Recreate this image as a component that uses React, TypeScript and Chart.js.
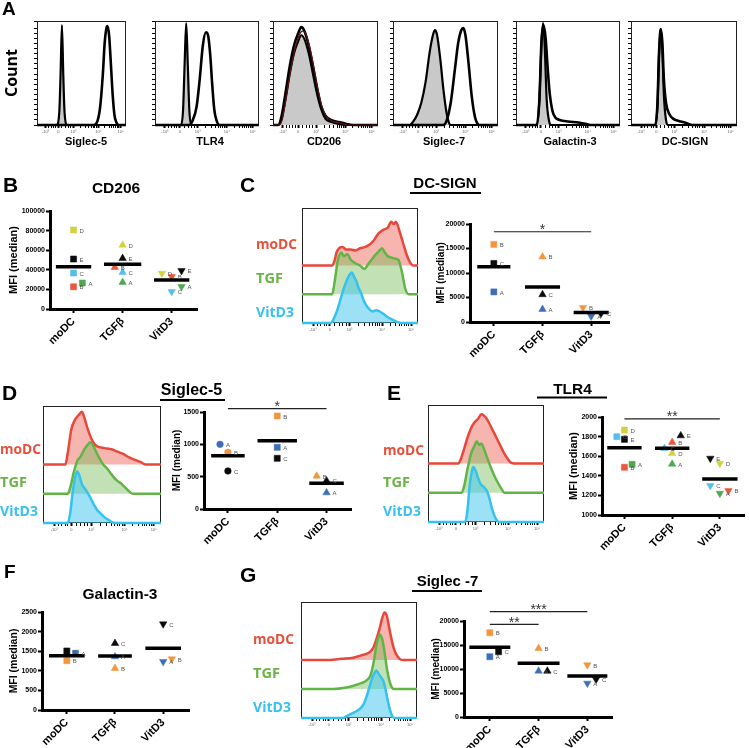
import React, { useEffect, useRef } from 'react';
import { Chart, registerables } from 'chart.js';
Chart.register(...registerables);

const SANS = '"Liberation Sans", Arial, sans-serif';
const OPEN = '"Open Sans", "Liberation Sans", sans-serif';

type Pt = [number, number];

// ---------- Panel A histograms (x: display position 0-100, y: % of max count)
const a1Iso: Pt[] = [[0,0],[22,0],[25,12],[26.5,50],[28,98],[29.5,50],[31,12],[34,0],[100,0]];
const a1Stain: Pt[] = [[0,0],[64,0],[68,4],[71,18],[74,50],[76,80],[78,95],[79,97],[81,88],[83,60],[85,30],[87,10],[89,3],[92,0],[100,0]];
const a2Iso: Pt[] = [[0,0],[25,0],[27,15],[28.5,60],[30,100],[31.5,60],[33,15],[35,0],[100,0]];
const a2Stain: Pt[] = [[0,0],[33,0],[36,4],[40,18],[43,45],[46,78],[49,91],[51,88],[53,70],[55,40],[57,15],[59,5],[62,0],[100,0]];
const a3Iso: Pt[] = [[0,0],[5,0],[8,5],[12,25],[16,50],[20,70],[24,82],[27,88],[30,84],[34,70],[38,50],[42,30],[46,15],[50,6],[55,3],[62,1],[70,0],[100,0]];
const a3Stain: Pt[] = [[0,0],[5,0],[8,8],[12,32],[16,58],[20,78],[24,90],[27,96],[30,92],[34,78],[38,58],[42,36],[46,18],[50,9],[55,5],[62,3],[70,1],[76,0],[100,0]];
const a3Stain2: Pt[] = [[0,0],[6,0],[9,6],[13,30],[17,55],[21,75],[25,88],[28,92],[31,90],[35,76],[39,56],[43,34],[47,17],[51,8],[56,4],[64,2],[72,0],[100,0]];
const a4Iso: Pt[] = [[0,0],[16,0],[19,3],[23,10],[27,22],[31,42],[35,72],[38,88],[40,93],[42,88],[45,65],[48,35],[51,12],[53,3],[55,0],[100,0]];
const a4Stain: Pt[] = [[0,0],[48,0],[51,4],[55,22],[59,55],[62,80],[65,93],[67,95],[69,88],[72,60],[75,28],[78,8],[80,2],[82,0],[100,0]];
const a5Iso: Pt[] = [[0,0],[20,0],[22.5,25],[24.5,80],[26,100],[27.5,80],[29.5,25],[32,3],[34,0],[100,0]];
const a5Stain: Pt[] = [[0,0],[20,0],[22.5,25],[24.5,82],[26.5,98],[28.5,85],[30.5,55],[32.5,30],[35,14],[38,7],[42,5],[50,3.5],[60,2.5],[68,1],[72,0],[100,0]];
const a6Iso: Pt[] = [[0,0],[23,0],[25,20],[26.5,70],[28,94],[29.5,75],[31,30],[33,5],[35,0],[100,0]];
const a6Stain: Pt[] = [[0,0],[23,0],[25,22],[26.5,72],[28,94],[29.5,82],[31,45],[33,22],[36,11],[40,6],[45,4],[52,2],[58,0],[100,0]];
const aMarkers = ['Siglec-5', 'TLR4', 'CD206', 'Siglec-7', 'Galactin-3', 'DC-SIGN'];

// ---------- Offset histograms (height above own baseline, % of box)
const cRed: Pt[] = [[0,0],[26,0],[28,4],[30,12],[32,15],[35,16],[38,14],[42,14],[46,13],[50,15],[54,16],[58,18],[62,22],[66,28],[70,31],[74,33],[77,38],[79,36],[81,38],[84,30],[87,20],[90,10],[93,3],[96,0],[100,0]];
const cGreen: Pt[] = [[0,0],[26,0],[28,10],[31,30],[34,36],[36,33],[39,35],[42,30],[46,27],[50,25],[54,22],[57,26],[60,30],[63,34],[66,37],[69,40],[71,37],[74,33],[77,32],[80,31],[83,30],[86,20],[89,5],[92,0],[100,0]];
const cCyan: Pt[] = [[0,0],[25,0],[27,3],[30,10],[33,20],[36,30],[39,38],[41,42],[43,44],[45,40],[47,36],[49,30],[51,26],[53,20],[55,16],[58,12],[61,10],[64,11],[67,10],[70,8],[74,5],[78,3],[82,1],[85,0],[100,0]];

const dRed: Pt[] = [[0,0],[19,0],[21,10],[24,30],[27,38],[30,42],[33,45],[35,40],[38,30],[41,22],[44,17],[47,15],[52,14],[58,13],[63,11],[68,9],[73,6],[78,4],[83,2],[87,0],[100,0]];
const dGreen: Pt[] = [[0,0],[21,0],[23,5],[26,18],[29,28],[32,32],[35,38],[38,42],[40,44],[42,42],[45,36],[48,30],[51,25],[54,22],[57,18],[60,14],[63,11],[66,9],[69,6],[72,3],[76,0],[100,0]];
const dCyan: Pt[] = [[0,0],[21,0],[23,8],[25,25],[27,38],[29,44],[31,40],[33,33],[35,30],[37,27],[40,22],[43,16],[46,11],[49,8],[52,5],[55,3],[58,1],[61,0],[100,0]];

const eRed: Pt[] = [[0,0],[26,0],[28,3],[31,12],[34,22],[37,30],[40,35],[43,38],[46,42],[48,41],[50,39],[53,34],[56,28],[59,22],[62,16],[65,10],[68,5],[71,1],[74,0],[100,0]];
const eGreen: Pt[] = [[0,0],[29,0],[31,5],[34,20],[37,33],[40,40],[42,44],[44,41],[46,42],[48,38],[51,30],[54,22],[57,15],[60,9],[63,4],[66,0],[100,0]];
const eCyan: Pt[] = [[0,0],[32,0],[34,10],[36,32],[38,44],[39,47],[41,44],[43,38],[45,33],[48,30],[51,26],[53,20],[55,12],[57,6],[59,2],[61,0],[100,0]];

const gRed: Pt[] = [[0,0],[25,0],[35,1],[45,2],[52,4],[58,6],[62,10],[65,18],[68,28],[70,36],[72,41],[74,38],[76,28],[78,18],[80,10],[82,5],[85,1],[88,0],[100,0]];
const gGreen: Pt[] = [[0,0],[28,0],[38,1],[46,3],[52,5],[56,7],[60,12],[63,25],[65,38],[67,45],[68,47],[70,43],[72,32],[74,18],[76,8],[78,2],[80,0],[100,0]];
const gCyan: Pt[] = [[0,0],[36,0],[40,2],[44,4],[48,6],[51,8],[54,12],[57,20],[60,30],[62,36],[64,40],[65,41],[67,38],[69,35],[71,32],[73,24],[75,14],[77,6],[79,1],[81,0],[100,0]];

const histTickPos = [9.5, 24, 41, 69, 94];
const histTickLabels = ['-10³', '0', '10³', '10⁴', '10⁵'];
const histMinor = [13, 16, 19, 21, 28, 32, 35, 38, 49, 54, 58, 61, 63, 65, 67, 76, 81, 84, 86, 88, 90, 92];

// ---------- Scatter data
const cats = ['moDC', 'TGFβ', 'VitD3'];
const letters5 = ['A', 'B', 'C', 'D', 'E'];
const letters3 = ['A', 'B', 'C'];
const GREEN = '#4ea84e', RED = '#e9573d', CYAN = '#56bee8', YELLOW = '#d2d23c', BLACK = '#0a0a0a';
const BLUE = '#3e6fb6', ORANGE = '#f2953f';
const colors5 = [GREEN, RED, CYAN, YELLOW, BLACK];
const colors3 = [BLUE, ORANGE, BLACK];

// B CD206 (A..E)
const bMoDC = [26500, 22700, 36700, 80600, 51000];
const bTGF = [27200, 42500, 37400, 65300, 51700];
const bVit = [22800, 33000, 17700, 36400, 39100];
const bMoDCdx = [0.18, 0, 0, 0, 0];
const bTGFdx = [0, -0.16, 0, 0, 0];
const bVitdx = [0.2, 0, 0, -0.2, 0.2];
const bMeans = [43200, 45600, 29600];

// C DC-SIGN (A..C)
const cMoDC = [6140, 15840, 11950];
const cTGF = [2600, 13300, 5610];
const cVit = [1170, 2950, 1720];
const cVitdx = [0, -0.17, 0.2];
const cMeans = [11260, 7160, 1920];

// D Siglec-5
const dMoDC = [1000, 877, 588];
const dTGF = [954, 1438, 784];
const dVit = [252, 510, 438];
const dMoDCdx = [-0.16, 0, 0];
const dVitdx = [0, -0.2, 0];
const dMeans = [824, 1056, 397];

// E TLR4 (A..E)
const eMoDC = [1517, 1487, 1799, 1867, 1772];
const eTGF = [1520, 1742, 1680, 1629, 1809];
const eVit = [1221, 1248, 1299, 1527, 1578];
const eMoDCdx = [0.16, 0, -0.16, 0, 0];
const eTGFdx = [0, 0, -0.16, 0, 0.18];
const eVitdx = [0, 0.18, -0.2, 0, -0.2];
const eMeans = [1687, 1680, 1367];

// F Galactin-3
const fMoDC = [1446, 1258, 1505];
const fTGF = [1360, 1063, 1701];
const fVit = [1233, 1301, 2194];
const fMoDCdx = [0.18, 0, 0];
const fVitdx = [0, 0.18, 0];
const fMeans = [1386, 1378, 1573];

// G Siglec-7
const gMoDC = [12560, 17560, 13600];
const gTGF = [9580, 14310, 9580];
const gVit = [7020, 10830, 7850];
const gdx = [0, 0, 0.18];
const gMeans = [14520, 11190, 8540];

const zero3 = [0, 0, 0];

// ---------- generic canvas
function ChartCanvas({ x, y, w, h, make }: { x: number; y: number; w: number; h: number; make: () => any }) {
  const ref = useRef<HTMLCanvasElement | null>(null);
  useEffect(() => {
    if (!ref.current) return;
    const c = new Chart(ref.current, make());
    return () => c.destroy();
  }, []);
  return <canvas ref={ref} width={w} height={h} style={{ position: 'absolute', left: x, top: y, width: w, height: h }} />;
}

const boxPlugin = {
  id: 'box',
  beforeDatasetsDraw(chart: any) {
    const { ctx, chartArea: a } = chart;
    ctx.save();
    ctx.strokeStyle = '#222';
    ctx.lineWidth = 1;
    ctx.strokeRect(a.left + 0.5, a.top + 0.5, a.right - a.left - 1, a.bottom - a.top - 1);
    ctx.restore();
  },
};

interface Curve { pts: Pt[]; line: string; fill?: string; base: number; width: number; order: number }

function histConfig(curves: Curve[], yMax: number, yTicks: boolean) {
  return {
    type: 'line',
    data: {
      datasets: curves.map((c) => ({
        data: c.pts.map(([x, y]) => ({ x, y: y + c.base })),
        borderColor: c.line,
        borderWidth: c.width,
        backgroundColor: c.fill || 'rgba(0,0,0,0)',
        fill: c.fill ? { value: c.base } : false,
        pointRadius: 0,
        cubicInterpolationMode: 'monotone',
        clip: 8,
        order: c.order,
      })),
    },
    options: {
      animation: false,
      responsive: false,
      events: [],
      layout: { padding: { left: 2, right: 4, top: 6, bottom: 0 } },
      plugins: { legend: { display: false }, tooltip: { enabled: false } },
      scales: {
        x: {
          type: 'linear', min: 0, max: 100,
          afterFit: (s: any) => { s.height = 12; },
          afterBuildTicks: (s: any) => { s.ticks = [...histTickPos, ...histMinor].sort((a, b) => a - b).map((v) => ({ value: v })); },
          ticks: {
            autoSkip: false, maxRotation: 0, minRotation: 0, padding: 1, color: '#666',
            font: { size: 4, family: SANS },
            callback: (v: number) => { const i = histTickPos.indexOf(v); return i >= 0 ? histTickLabels[i] : ''; },
          },
          grid: {
            drawOnChartArea: false, tickLength: 3, color: '#000',
            tickWidth: (ctx: any) => (ctx.tick && histTickPos.indexOf(ctx.tick.value) >= 0 ? 2 : 1),
          },
          border: { display: false },
        },
        y: {
          min: 0, max: yMax,
          afterFit: (s: any) => { s.width = 6; },
          ticks: { display: false, stepSize: 5 },
          grid: { display: yTicks, drawOnChartArea: false, tickLength: 3, color: '#000' },
          border: { display: false },
        },
      },
    },
    plugins: [boxPlugin],
  };
}

function Hist({ box, curves, yMax = 100, yTicks = false }: { box: [number, number, number, number]; curves: Curve[]; yMax?: number; yTicks?: boolean }) {
  const [l, t, r, b] = box;
  return <ChartCanvas x={l - 8} y={t - 6} w={r - l + 12} h={b - t + 18} make={() => histConfig(curves, yMax, yTicks)} />;
}

const RL = '#e8473b', RF = 'rgba(238,90,80,0.45)';
const GL = '#62b447', GF = 'rgba(110,185,80,0.42)';
const CL = '#34c2ee', CF = 'rgba(60,195,240,0.5)';

function offsetCurves(red: Pt[], green: Pt[], cyan: Pt[]): Curve[] {
  return [
    { pts: red, line: RL, fill: RF, base: 50, width: 2.5, order: 3 },
    { pts: green, line: GL, fill: GF, base: 25, width: 2.5, order: 2 },
    { pts: cyan, line: CL, fill: CF, base: 0, width: 2.5, order: 1 },
  ];
}

function isoCurves(iso: Pt[], stain: Pt[]): Curve[] {
  return [
    { pts: iso, line: '#000', fill: '#c9c9c9', base: 0, width: 2.2, order: 2 },
    { pts: stain, line: '#000', base: 0, width: 2.6, order: 1 },
  ];
}

// ---------- scatter
interface Group { vals: number[]; dx: number[]; shape: string; down?: boolean }
interface Sig { from: number; to: number; y: number; text: string }
interface Spec {
  groups: Group[]; colors: string[]; letters: string[]; means: number[]; half: number[];
  min: number; max: number; step: number; xMin: number; xMax: number; sigs: Sig[];
  axisX: number; right: number; yTop: number; yBottom: number; titleCx: number; titleSize: number; padTop: number;
}

function scatterConfig(s: Spec, yW: number, padRight: number) {
  const datasets: any[] = [];
  s.groups.forEach((g, i) => {
    datasets.push({
      data: g.vals.map((v, j) => ({ x: i + 1 + g.dx[j], y: v })),
      pointStyle: g.shape,
      pointRotation: g.down ? 180 : 0,
      pointRadius: g.shape === 'circle' ? 3.3 : 4.3,
      pointBackgroundColor: s.colors,
      pointBorderColor: s.colors,
      pointBorderWidth: 0.5,
      backgroundColor: s.colors,
      borderColor: s.colors,
      showLine: false,
      clip: false,
      order: 1,
    });
  });
  s.means.forEach((m, i) => {
    datasets.push({
      data: [{ x: i + 1 - s.half[i], y: m }, { x: i + 1 + s.half[i], y: m }],
      showLine: true, borderColor: '#000', borderWidth: 3.5, pointRadius: 0, clip: false, order: 0,
    });
  });
  const annot = {
    id: 'annot',
    afterDatasetsDraw(chart: any) {
      const ctx = chart.ctx;
      ctx.save();
      ctx.font = '6px ' + SANS;
      ctx.fillStyle = '#555';
      ctx.textBaseline = 'middle';
      ctx.textAlign = 'left';
      s.groups.forEach((g, i) => {
        const meta = chart.getDatasetMeta(i);
        meta.data.forEach((el: any, j: number) => ctx.fillText(s.letters[j], el.x + 6, el.y + 1));
      });
      const xs = chart.scales.x, ys = chart.scales.y;
      s.sigs.forEach((sg) => {
        const x1 = xs.getPixelForValue(sg.from), x2 = xs.getPixelForValue(sg.to), y = ys.getPixelForValue(sg.y);
        ctx.strokeStyle = '#222';
        ctx.lineWidth = 1.2;
        ctx.beginPath();
        ctx.moveTo(x1, y);
        ctx.lineTo(x2, y);
        ctx.stroke();
        ctx.font = '14px ' + SANS;
        ctx.textAlign = 'center';
        ctx.textBaseline = 'alphabetic';
        ctx.fillStyle = '#333';
        ctx.fillText(sg.text, (x1 + x2) / 2, y + 2.5);
      });
      ctx.restore();
    },
  };
  return {
    type: 'scatter',
    data: { datasets },
    options: {
      animation: false,
      responsive: false,
      events: [],
      layout: { padding: { left: 0, right: padRight, top: s.padTop, bottom: 0 } },
      plugins: { legend: { display: false }, tooltip: { enabled: false } },
      scales: {
        x: {
          type: 'linear', min: s.xMin, max: s.xMax,
          afterFit: (sc: any) => { sc.height = 46; },
          afterBuildTicks: (sc: any) => { sc.ticks = [1, 2, 3].map((v) => ({ value: v })); },
          ticks: {
            autoSkip: false, minRotation: 45, maxRotation: 45, padding: 2, color: '#000',
            font: { size: 11, weight: 'bold', family: SANS },
            callback: (v: number) => cats[Math.round(v) - 1] || '',
          },
          grid: { drawOnChartArea: false, tickLength: 4, tickWidth: 2, color: '#000' },
          border: { width: 3, color: '#000' },
        },
        y: {
          type: 'linear', min: s.min, max: s.max,
          afterFit: (sc: any) => { sc.width = yW; },
          ticks: {
            stepSize: s.step, padding: 1, color: '#000',
            font: { size: 7, weight: 'bold', family: SANS },
            callback: (v: number) => String(v),
          },
          title: {
            display: true, text: 'MFI (median)', color: '#000', padding: 0,
            font: { size: s.titleSize, weight: 'bold', family: SANS, lineHeight: 1.2 },
          },
          grid: { drawOnChartArea: false, tickLength: 4, tickWidth: 2, color: '#000' },
          border: { width: 3, color: '#000' },
        },
      },
    },
    plugins: [annot],
  };
}

function Scatter({ s, padRight = 4 }: { s: Spec; padRight?: number }) {
  const left = Math.round(s.titleCx - 0.6 * s.titleSize);
  const yW = s.axisX - left;
  const w = s.right - left + padRight;
  const top = s.yTop - s.padTop;
  const h = s.padTop + (s.yBottom - s.yTop) + 46;
  return <ChartCanvas x={left} y={top} w={w} h={h} make={() => scatterConfig(s, yW, padRight)} />;
}

const specB: Spec = {
  groups: [
    { vals: bMoDC, dx: bMoDCdx, shape: 'rect' },
    { vals: bTGF, dx: bTGFdx, shape: 'triangle' },
    { vals: bVit, dx: bVitdx, shape: 'triangle', down: true },
  ],
  colors: colors5, letters: letters5, means: bMeans, half: [0.36, 0.38, 0.36],
  min: 0, max: 100000, step: 20000, xMin: 0.52, xMax: 3.52, sigs: [],
  axisX: 50, right: 198, yTop: 211, yBottom: 309, titleCx: 14, titleSize: 11, padTop: 8,
};
const specC: Spec = {
  groups: [
    { vals: cMoDC, dx: zero3, shape: 'rect' },
    { vals: cTGF, dx: zero3, shape: 'triangle' },
    { vals: cVit, dx: cVitdx, shape: 'triangle', down: true },
  ],
  colors: colors3, letters: letters3, means: cMeans, half: [0.34, 0.36, 0.36],
  min: 0, max: 20000, step: 5000, xMin: 0.51, xMax: 3.37,
  sigs: [{ from: 1, to: 3, y: 18420, text: '*' }],
  axisX: 470, right: 610, yTop: 224, yBottom: 322, titleCx: 441, titleSize: 10, padTop: 10,
};
const specD: Spec = {
  groups: [
    { vals: dMoDC, dx: dMoDCdx, shape: 'circle' },
    { vals: dTGF, dx: zero3, shape: 'rect' },
    { vals: dVit, dx: dVitdx, shape: 'triangle' },
  ],
  colors: colors3, letters: letters3, means: dMeans, half: [0.34, 0.4, 0.35],
  min: 0, max: 1500, step: 500, xMin: 0.515, xMax: 3.5,
  sigs: [{ from: 1, to: 3, y: 1551, text: '*' }],
  axisX: 204, right: 352, yTop: 412, yBottom: 509, titleCx: 177, titleSize: 10, padTop: 18,
};
const specE: Spec = {
  groups: [
    { vals: eMoDC, dx: eMoDCdx, shape: 'rect' },
    { vals: eTGF, dx: eTGFdx, shape: 'triangle' },
    { vals: eVit, dx: eVitdx, shape: 'triangle', down: true },
  ],
  colors: colors5, letters: letters5, means: eMeans, half: [0.36, 0.36, 0.37],
  min: 1000, max: 2000, step: 200, xMin: 0.53, xMax: 3.51,
  sigs: [{ from: 1, to: 3, y: 1980, text: '**' }],
  axisX: 602, right: 748, yTop: 417, yBottom: 515, titleCx: 574, titleSize: 11, padTop: 16,
};
const specF: Spec = {
  groups: [
    { vals: fMoDC, dx: fMoDCdx, shape: 'rect' },
    { vals: fTGF, dx: zero3, shape: 'triangle' },
    { vals: fVit, dx: fVitdx, shape: 'triangle', down: true },
  ],
  colors: colors3, letters: letters3, means: fMeans, half: [0.37, 0.35, 0.37],
  min: 0, max: 2500, step: 500, xMin: 0.485, xMax: 3.54, sigs: [],
  axisX: 42, right: 190, yTop: 612, yBottom: 710, titleCx: 14, titleSize: 10.5, padTop: 8,
};
const specG: Spec = {
  groups: [
    { vals: gMoDC, dx: gdx, shape: 'rect' },
    { vals: gTGF, dx: gdx, shape: 'triangle' },
    { vals: gVit, dx: gdx, shape: 'triangle', down: true },
  ],
  colors: colors3, letters: letters3, means: gMeans, half: [0.42, 0.43, 0.41],
  min: 0, max: 20000, step: 5000, xMin: 0.47, xMax: 3.51,
  sigs: [
    { from: 1, to: 3, y: 21940, text: '***' },
    { from: 1, to: 2, y: 19310, text: '**' },
  ],
  axisX: 464, right: 613, yTop: 621, yBottom: 717, titleCx: 436, titleSize: 10, padTop: 20,
};

const aBoxes: [number, number][] = [[37, 126], [155, 259], [273, 378], [393, 498], [516, 620], [631, 737]];
const aLabelX = [86, 210, 324, 444, 570, 685];

function T({ x, y, s, c = '#000', f = SANS, a = 'start', len, children }: any) {
  return (
    <text x={x} y={y} fontSize={s} fill={c} fontFamily={f} fontWeight="bold" textAnchor={a}
      textLength={len} lengthAdjust={len ? 'spacingAndGlyphs' : undefined}>
      {children}
    </text>
  );
}

function HistLabels({ x, ys }: { x: number; ys: number[] }) {
  return (
    <>
      <T x={x} y={ys[0]} s={15} f={OPEN} c="#e8503c" len={41}>moDC</T>
      <T x={x} y={ys[1]} s={15} f={OPEN} c="#6ab344" len={27}>TGF</T>
      <T x={x} y={ys[2]} s={15} f={OPEN} c="#3ac1ee" len={38}>VitD3</T>
    </>
  );
}

export default function App() {
  const aCurves: Curve[][] = [
    isoCurves(a1Iso, a1Stain),
    isoCurves(a2Iso, a2Stain),
    [
      { pts: a3Iso, line: '#000', fill: '#c9c9c9', base: 0, width: 2, order: 3 },
      { pts: a3Stain, line: '#000', base: 0, width: 2.6, order: 2 },
      { pts: a3Stain2, line: '#5a1414', base: 0, width: 1.2, order: 1 },
    ],
    isoCurves(a4Iso, a4Stain),
    isoCurves(a5Iso, a5Stain),
    isoCurves(a6Iso, a6Stain),
  ];
  return (
    <div style={{ position: 'fixed', left: 0, top: 0, width: 749, height: 748, background: '#fff', overflow: 'hidden' }}>
      {aBoxes.map(([l, r], i) => (
        <Hist key={i} box={[l, 21, r, 125]} curves={aCurves[i]} yMax={102} yTicks />
      ))}
      <Scatter s={specB} />
      <Hist box={[302, 208, 418, 323]} curves={offsetCurves(cRed, cGreen, cCyan)} />
      <Scatter s={specC} />
      <Hist box={[43, 406, 161, 523]} curves={offsetCurves(dRed, dGreen, dCyan)} />
      <Scatter s={specD} />
      <Hist box={[428, 405, 544, 522]} curves={offsetCurves(eRed, eGreen, eCyan)} />
      <Scatter s={specE} padRight={1} />
      <Scatter s={specF} />
      <Hist box={[301, 602, 417, 718]} curves={offsetCurves(gRed, gGreen, gCyan)} />
      <Scatter s={specG} />
      <svg width={749} height={748} style={{ position: 'absolute', left: 0, top: 0, pointerEvents: 'none' }}>
        <T x={2} y={15} s={19}>A</T>
        <text transform="translate(17,73) rotate(-90)" fontSize={16} fontFamily={OPEN} fontWeight="bold" textAnchor="middle">Count</text>
        {aMarkers.map((m, i) => (
          <T key={m} x={aLabelX[i]} y={145} s={11} a="middle">{m}</T>
        ))}
        <T x={3} y={192} s={21}>B</T>
        <T x={116} y={193} s={15.5} a="middle">CD206</T>
        <T x={240} y={192} s={21}>C</T>
        <T x={445} y={188} s={15} a="middle">DC-SIGN</T>
        <rect x={410} y={192} width={71} height={2} fill="#000" />
        <HistLabels x={256} ys={[249, 283, 317]} />
        <T x={2} y={400} s={21}>D</T>
        <T x={191.5} y={395} s={16} a="middle">Siglec-5</T>
        <rect x={160} y={399} width={65} height={2} fill="#000" />
        <HistLabels x={0} ys={[454, 487, 516]} />
        <T x={387} y={400} s={21}>E</T>
        <T x={572.5} y={394} s={15.5} a="middle">TLR4</T>
        <rect x={537} y={396.5} width={70} height={2} fill="#000" />
        <HistLabels x={383} ys={[455, 487, 516]} />
        <T x={4} y={578} s={19}>F</T>
        <T x={120} y={599} s={15.5} a="middle">Galactin-3</T>
        <T x={240} y={582} s={21}>G</T>
        <T x={447.5} y={586} s={15} a="middle">Siglec -7</T>
        <rect x={412} y={590} width={70} height={2} fill="#000" />
        <HistLabels x={253} ys={[644, 678, 712]} />
      </svg>
    </div>
  );
}
